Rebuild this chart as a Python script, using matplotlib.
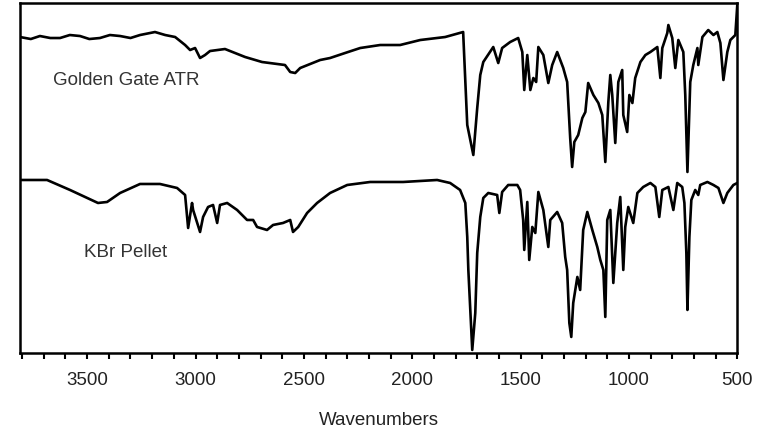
import numpy as np
import matplotlib
matplotlib.use("Agg")
import matplotlib.pyplot as plt

plt.rcParams['font.family'] = ['Liberation Sans', 'DejaVu Sans']

# Golden Gate ATR trace (wavenumber, transmittance in arbitrary units)
atr_wn = [3810, 3760, 3718, 3670, 3625, 3580, 3533, 3490, 3441, 3395, 3348, 3300,
          3256, 3187, 3140, 3094, 3048, 3025,
          3002, 2979, 2956, 2933, 2864, 2771, 2693, 2587, 2563, 2540, 2517, 2425,
          2379, 2310, 2240, 2148, 2056, 1963, 1848, 1765, 1746, 1732, 1718, 1700,
          1686, 1672, 1626, 1603, 1585, 1548, 1511, 1492, 1483, 1469, 1455, 1441,
          1428, 1418, 1395, 1372, 1354, 1331, 1303, 1285, 1271, 1262, 1252, 1234,
          1215, 1201, 1188, 1164, 1141, 1123, 1109, 1095, 1086, 1077, 1063, 1049,
          1031, 1026, 1008, 998, 984, 971, 947, 924, 901, 869, 855, 846, 823, 818,
          800, 786, 772, 749, 740, 730, 717, 703, 684, 680, 661, 634, 610, 592,
          578, 564, 546, 532, 509, 500]
atr_t = [316, 314, 317, 315, 315, 318, 317, 314, 315, 318, 317, 315,
         318, 321, 318, 316, 308, 303,
         305, 295, 298, 302, 304, 296, 291, 288, 281, 280, 285, 293,
         295, 300, 305, 308, 308, 313, 316, 321, 228, 213, 198, 245,
         278, 291, 306, 290, 305, 311, 315, 301, 263, 298, 263, 275,
         271, 306, 298, 270, 288, 301, 285, 271, 215, 186, 211, 218,
         235, 241, 270, 258, 250, 238, 191, 251, 278, 258, 210, 271,
         283, 238, 221, 258, 250, 275, 291, 298, 301, 306, 275, 305, 320, 328,
         315, 285, 313, 301, 258, 181, 271, 288, 305, 288, 316, 323, 318, 321,
         310, 273, 301, 313, 318, 348]

# KBr pellet trace
kbr_wn = [3810, 3685, 3579, 3450, 3408, 3348, 3256, 3164, 3085, 3048, 3034, 3016,
          3011, 2979, 2965, 2942, 2919, 2900, 2887, 2854, 2808, 2762, 2734, 2716,
          2670, 2642, 2596, 2563, 2550, 2526, 2485, 2439, 2379, 2300, 2194, 2042,
          1885, 1825, 1779, 1755, 1746, 1741, 1732, 1723, 1709, 1700, 1686, 1672,
          1649, 1608, 1598, 1585, 1557, 1515, 1502, 1488, 1483, 1469, 1460, 1446,
          1432, 1418, 1395, 1372, 1363, 1331, 1308, 1294, 1285, 1275, 1266, 1257,
          1238, 1225, 1211, 1192, 1169, 1146, 1132, 1118, 1109, 1100, 1086, 1077,
          1072, 1054, 1040, 1026, 1017, 1003, 980, 961, 934, 901, 878, 860, 846,
          818, 795, 777, 754, 744, 735, 730, 721, 712, 694, 680, 671, 638, 610,
          587, 564, 546, 518, 500]
kbr_t = [173, 173, 163, 150, 151, 160, 169, 169, 165, 158, 125, 150,
         143, 121, 136, 146, 148, 130, 148, 150, 143, 133, 133, 126,
         123, 128, 130, 133, 121, 126, 140, 150, 160, 168, 171, 171,
         173, 170, 163, 150, 116, 83, 43, 3, 40, 100, 136, 155,
         160, 158, 140, 161, 168, 168, 163, 133, 103, 151, 93, 126,
         120, 161, 143, 106, 133, 141, 130, 96, 83, 30, 16, 50,
         76, 63, 123, 141, 123, 106, 93, 83, 36, 133, 143, 96,
         70, 130, 156, 83, 126, 146, 130, 160, 166, 170, 166, 136, 163,
         166, 143, 170, 166, 150, 100, 43, 116, 153, 163, 158, 168, 171, 168,
         165, 150, 160, 168, 170]

fig = plt.figure(figsize=(7.68, 4.32), dpi=100)
ax = fig.add_axes([0.026, 0.183, 0.934, 0.81])

ax.plot(atr_wn, atr_t, color='black', lw=1.9)
ax.plot(kbr_wn, kbr_t, color='black', lw=1.9)

ax.set_xlim(3810, 500)
ax.set_ylim(0, 350)

ax.set_xticks([3500, 3000, 2500, 2000, 1500, 1000, 500])
ax.set_xticks(np.arange(600, 3810, 100), minor=True)
ax.tick_params(axis='x', which='both', direction='out', length=4, width=1.5,
               pad=10, labelsize=13.5, colors='black', labelcolor='#222222')
ax.set_yticks([])
for s in ax.spines.values():
    s.set_linewidth(1.8)

ax.set_xlabel('Wavenumbers', fontsize=13.5, color='#222222', labelpad=16)

ax.text(0.046, 0.78, 'Golden Gate ATR', transform=ax.transAxes,
        fontsize=13.5, color='#333333', va='center', ha='left')
ax.text(0.089, 0.286, 'KBr Pellet', transform=ax.transAxes,
        fontsize=13.5, color='#333333', va='center', ha='left')

fig.savefig('out.png', dpi=100)
